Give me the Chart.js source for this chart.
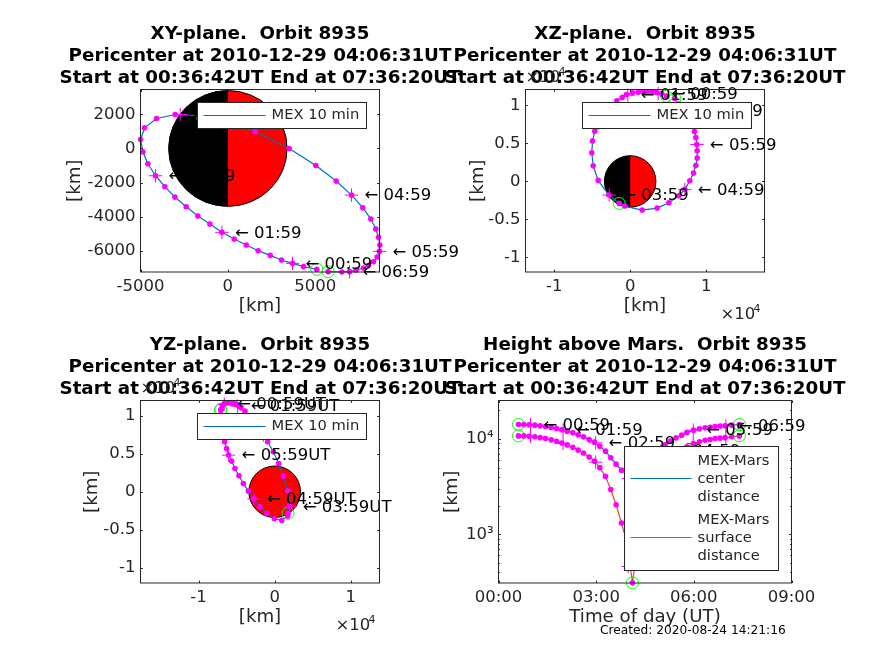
<!DOCTYPE html>
<html lang="en">
<head>
<meta charset="UTF-8">
<title>Orbit 8935</title>
<script src="https://cdn.jsdelivr.net/npm/chart.js"></script>
<style>
    body { margin: 0; background: #fff; width: 874px; height: 655px; overflow: hidden; }
    canvas { position: absolute; left: 0; top: 0; }
</style>
</head>
<body>
<canvas id="xyCanvas" width="874" height="655"></canvas>
<canvas id="xzCanvas" width="874" height="655"></canvas>
<canvas id="yzCanvas" width="874" height="655"></canvas>
<canvas id="heightCanvas" width="874" height="655"></canvas>

<script>
const marsRadius = 3390;
const hourLabels = ['00:59', '01:59', '02:59', '03:59', '04:59', '05:59', '06:59'];
const hourLabelsUT = ['00:59UT', '01:59UT', '02:59UT', '03:59UT', '04:59UT', '05:59UT', '06:59UT'];
const pericenterLine = 'Pericenter at 2010-12-29 04:06:31UT';
const startEndLine = 'Start at 00:36:42UT End at 07:36:20UT';

// XY plane, km
const xyOrbitX = [5092, 4329, 3700, 3070, 2422, 1735, 1049, 362, -343, -1030, -1716, -2384, -3032, -3604, -4138, -4577, -4863, -4996, -4768, -4081, -3013, -1392, 229, 1564, 3509, 5034, 6198, 7075, 7723, 8181, 8467, 8620, 8696, 8677, 8543, 8334, 8048, 7761, 7342, 6961, 6522, 5740];
const xyOrbitY = [-7075, -6919, -6724, -6529, -6256, -5983, -5652, -5301, -4911, -4424, -3956, -3411, -2846, -2241, -1598, -897, -195, 526, 1208, 1754, 1988, 1910, 1462, 975, 0, -994, -1910, -2729, -3469, -4132, -4717, -5204, -5652, -6022, -6354, -6627, -6841, -6997, -7114, -7211, -7231, -7211];
const xyHourX = [3700, -343, -4138, -2727, 7075, 8677, 6961];
const xyHourY = [-6724, -4911, -1598, 1988, -2729, -6022, -7211];
const xyRingX = [5092, 5740, -1449];
const xyRingY = [-7075, -7211, 1852];
const xyTicksX = [-5000, 0, 5000];
const xyTicksY = [-6000, -4000, -2000, 0, 2000];

// XZ plane, km
const xzOrbitX = [4781, 4123, 3465, 2895, 2281, 1667, 1053, 307, -482, -1053, -1754, -2456, -3114, -3728, -4211, -4649, -4956, -5044, -4868, -4211, -2807, -1447, -702, 1579, 3553, 5088, 6404, 7193, 7851, 8333, 8640, 8816, 8816, 8772, 8640, 8465, 8202, 7807, 7412, 6974, 6447, 5877];
const xzOrbitY = [11228, 11579, 11711, 11798, 11798, 11798, 11754, 11667, 11447, 11053, 10614, 9956, 9298, 8509, 7632, 6623, 5307, 3772, 2061, 132, -1798, -2895, -3246, -3772, -3509, -2807, -1886, -1053, 88, 1096, 2105, 3070, 4035, 4868, 5789, 6579, 7412, 8290, 8860, 9254, 10175, 10921];
const xzHourX = [3684, -307, -4211, -2763, 7193, 8772, 6974];
const xzHourY = [11579, 11360, 7632, -1798, -1053, 4868, 9254];
const xzRingX = [4781, 5877, -1447];
const xzRingY = [11228, 10921, -2895];
const xzTicksX = [-10000, 0, 10000];
const xzTicksY = [-10000, -5000, 0, 5000, 10000];

// YZ plane, km
const yzOrbitX = [-7061, -6886, -6623, -6228, -5877, -5526, -5219, -5000, -4737, -4430, -3904, -3333, -2807, -2149, -1491, -921, -175, 526, 1140, 1754, 1930, 1754, 1711, 921, -44, -1009, -1930, -2763, -3465, -4123, -4693, -5219, -5658, -6053, -6316, -6579, -6842, -7018, -7193, -7281, -7237, -7061];
const yzOrbitY = [10746, 11360, 11623, 11711, 11711, 11667, 11579, 11491, 11316, 11053, 10614, 9956, 9211, 8333, 7456, 6579, 5263, 3728, 2061, 88, -1886, -2851, -3202, -3772, -3553, -2851, -1974, -921, 88, 1096, 2105, 3070, 4035, 4825, 5702, 6579, 7456, 8114, 8772, 9430, 10088, 10833];
const yzHourX = [-6623, -4868, -1491, 1974, -2719, -6053, -7281];
const yzHourY = [11535, 11272, 7456, -1974, -965, 4825, 9430];
const yzRingX = [-7061, -7130, 1754];
const yzRingY = [10833, 10746, -2851];
const yzTicksX = [-10000, 0, 10000];
const yzTicksY = [-10000, -5000, 0, 5000, 10000];

// height above Mars, hours of day / km
const dotHours = [0.614, 0.778, 0.942, 1.116, 1.279, 1.443, 1.617, 1.781, 1.945, 2.108, 2.283, 2.446, 2.61, 2.784, 2.948, 3.112, 3.286, 3.449, 3.613, 3.777, 3.951, 4.115, 4.278, 4.452, 4.616, 4.78, 4.954, 5.118, 5.282, 5.455, 5.629, 5.783, 5.988, 6.172, 6.346, 6.5, 6.653, 6.807, 6.96, 7.165, 7.4];
const centerDistance = [14125, 14125, 14020, 13900, 13680, 13460, 13140, 12830, 12420, 12030, 11560, 11010, 10490, 9840, 9230, 8380, 7430, 6330, 5430, 4700, 4200, 3700, 4180, 4700, 5430, 6330, 7430, 8654, 9453, 10244, 10923, 11649, 12323, 12722, 13032, 13243, 13459, 13568, 13680, 13900, 14125];
const surfaceDistance = [10735, 10735, 10630, 10510, 10290, 10070, 9750, 9440, 9030, 8640, 8170, 7620, 7100, 6450, 5840, 4990, 4040, 2940, 2040, 1310, 810, 310, 790, 1310, 2040, 2940, 4040, 5264, 6063, 6854, 7533, 8259, 8933, 9332, 9642, 9853, 10069, 10178, 10290, 10510, 10735];
const hourMarks = [0.983, 1.983, 2.983, 3.983, 4.983, 5.983, 6.983];
const centerAtHour = [14020, 12323, 9080, 3850, 7430, 12323, 13680];
const surfaceAtHour = [10630, 8933, 5690, 460, 4040, 8933, 10290];
const ringHours = [0.614, 7.4, 4.115];
const ringCenter = [14125, 14125, 3700];
const ringSurface = [10735, 10735, 310];
const timeTicks = [0, 3, 6, 9];
const timeTickLabels = ['00:00', '03:00', '06:00', '09:00'];
const heightTicks = [1000, 10000];
const heightMinorTicks = [400, 500, 600, 700, 800, 900, 2000, 3000, 4000, 5000, 6000, 7000, 8000, 9000, 20000];

const textColor = '#262626';
const tickSize = 16.5;
const tickFont = tickSize + 'px "DejaVu Sans"';
const labelFont = '18.2px "DejaVu Sans"';
const titleFont = 'bold 18.3px "DejaVu Sans"';
const legendFont = '14.7px "DejaVu Sans"';

const pts = (xs, ys) => xs.map((x, i) => ({ x: x, y: ys[i] }));
const perTen = v => v === 0 ? '0' : String(v / 10000);

const orbitSets = (orbitX, orbitY, hourX, hourY, ringX, ringY, color) => [
    { data: pts(orbitX, orbitY), pointRadius: 2.8, backgroundColor: '#ff00ff', borderColor: '#ff00ff', borderWidth: 0, clip: false },
    { data: pts(hourX, hourY), pointStyle: 'cross', pointRadius: 6.7, borderColor: '#ff00ff', pointBorderWidth: 1, clip: false },
    { data: pts(ringX, ringY), pointRadius: 6, backgroundColor: 'transparent', borderColor: '#00ff00', pointBorderWidth: 1, clip: false },
    { data: pts(orbitX, orbitY), showLine: true, pointRadius: 0, borderColor: color, borderWidth: 1.2, clip: false }
];

const panelPlugin = {
    id: 'panel',
    beforeDatasetsDraw(chart, args, opts) {
        const ctx = chart.ctx;
        const sx = chart.scales.x, sy = chart.scales.y;
        if (!opts.mars) return;
        const cx = sx.getPixelForValue(0), cy = sy.getPixelForValue(0);
        const rx = sx.getPixelForValue(marsRadius) - cx, ry = cy - sy.getPixelForValue(marsRadius);
        ctx.save();
        ctx.fillStyle = '#ff0000';
        ctx.beginPath();
        ctx.ellipse(cx, cy, rx, ry, 0, 0, Math.PI * 2);
        ctx.fill();
        if (opts.mars === 'half') {
            ctx.fillStyle = '#000';
            ctx.beginPath();
            ctx.ellipse(cx, cy, rx, ry, 0, Math.PI / 2, Math.PI * 1.5);
            ctx.fill();
        }
        ctx.strokeStyle = '#000';
        ctx.lineWidth = 1;
        ctx.beginPath();
        ctx.ellipse(cx, cy, rx, ry, 0, 0, Math.PI * 2);
        ctx.stroke();
        ctx.restore();
    },
    afterDraw(chart, args, opts) {
        const ctx = chart.ctx;
        const sx = chart.scales.x, sy = chart.scales.y;
        const a = chart.chartArea;
        ctx.save();

        // hour labels
        ctx.fillStyle = '#000';
        ctx.font = tickFont;
        ctx.textAlign = 'left';
        ctx.textBaseline = 'middle';
        opts.hourText.forEach((s, i) => {
            ctx.fillText('\u2190 ' + s, sx.getPixelForValue(opts.hourAtX[i]) + 13, sy.getPixelForValue(opts.hourAtY[i]) + 1);
        });

        // box and inside ticks
        ctx.strokeStyle = textColor;
        ctx.lineWidth = 1;
        ctx.strokeRect(a.left, a.top, a.right - a.left, a.bottom - a.top);
        const tl = 2.4;
        ctx.beginPath();
        opts.ticksX.forEach(v => {
            const p = Math.round(sx.getPixelForValue(v)) + 0.5;
            ctx.moveTo(p, a.bottom); ctx.lineTo(p, a.bottom - tl);
            ctx.moveTo(p, a.top); ctx.lineTo(p, a.top + tl);
        });
        opts.ticksY.forEach(v => {
            const p = Math.round(sy.getPixelForValue(v)) + 0.5;
            ctx.moveTo(a.left, p); ctx.lineTo(a.left + tl, p);
            ctx.moveTo(a.right, p); ctx.lineTo(a.right - tl, p);
        });
        (opts.minorY || []).forEach(v => {
            const p = Math.round(sy.getPixelForValue(v)) + 0.5;
            ctx.moveTo(a.left, p); ctx.lineTo(a.left + tl * 0.6, p);
            ctx.moveTo(a.right, p); ctx.lineTo(a.right - tl * 0.6, p);
        });
        ctx.stroke();

        // titles
        ctx.fillStyle = '#000';
        ctx.font = titleFont;
        ctx.textAlign = 'center';
        ctx.textBaseline = 'alphabetic';
        const mid = (a.left + a.right) / 2;
        opts.title.forEach((s, i) => ctx.fillText(s, mid, a.top - 50.5 + i * 22));

        // axis labels
        ctx.fillStyle = textColor;
        ctx.font = labelFont;
        ctx.textBaseline = 'middle';
        ctx.fillText(opts.xLabel, mid, a.bottom + 34);
        ctx.save();
        ctx.translate(opts.yLabelX, (a.top + a.bottom) / 2);
        ctx.rotate(-Math.PI / 2);
        ctx.fillText('[km]', 0, 0);
        ctx.restore();

        // x10^4 factors
        if (opts.factor) {
            ctx.textAlign = 'left';
            ctx.textBaseline = 'alphabetic';
            [[a.right - 44, a.bottom + 47], [a.left, a.top - 8]].forEach(p => {
                ctx.font = tickFont;
                ctx.fillText('\u00d710', p[0], p[1]);
                ctx.font = '11px "DejaVu Sans"';
                ctx.fillText('4', p[0] + 33, p[1] - 7);
            });
        }

        // legend
        const lg = opts.legend;
        ctx.fillStyle = '#fff';
        ctx.fillRect(lg.x, lg.y, lg.w, lg.h);
        ctx.strokeStyle = textColor;
        ctx.strokeRect(lg.x, lg.y, lg.w, lg.h);
        ctx.font = legendFont;
        ctx.textAlign = 'left';
        ctx.textBaseline = 'middle';
        lg.rows.forEach(r => {
            ctx.strokeStyle = r.color;
            ctx.beginPath();
            ctx.moveTo(lg.x + 6, r.lineY);
            ctx.lineTo(lg.x + 6 + lg.sample, r.lineY);
            ctx.stroke();
            ctx.fillStyle = textColor;
            r.text.forEach((s, i) => ctx.fillText(s, lg.x + 6 + lg.sample + 6, r.textY + i * 18));
        });

        if (opts.created) {
            ctx.fillStyle = '#000';
            ctx.font = '12.2px "DejaVu Sans"';
            ctx.textAlign = 'left';
            ctx.textBaseline = 'middle';
            ctx.fillText(opts.created, 600, 631);
        }
        ctx.restore();
    }
};

// the scale boxes keep a fixed size so the plot area lands where it should
const scaleW = 60, scaleH = 30;

const makeChart = (id, box, sets, xAxis, yAxis, panel) => new Chart(document.getElementById(id), {
    type: 'scatter',
    data: { datasets: sets },
    plugins: [panelPlugin],
    options: {
        responsive: false,
        animation: false,
        events: [],
        layout: { padding: { left: box.left - scaleW, top: box.top, right: 874 - box.right, bottom: 655 - box.bottom - scaleH } },
        plugins: { legend: { display: false }, tooltip: { enabled: false }, panel: panel },
        scales: {
            x: {
                type: 'linear', min: xAxis.min, max: xAxis.max,
                grid: { display: false, drawTicks: false }, border: { display: false },
                afterFit: s => { s.height = scaleH; },
                afterBuildTicks: s => { s.ticks = xAxis.ticks.map(v => ({ value: v })); },
                ticks: { autoSkip: false, maxRotation: 0, padding: 5, color: textColor, font: { family: 'DejaVu Sans', size: tickSize }, callback: xAxis.text }
            },
            y: {
                type: yAxis.type || 'linear', min: yAxis.min, max: yAxis.max,
                grid: { display: false, drawTicks: false }, border: { display: false },
                afterFit: s => { s.width = scaleW; },
                afterBuildTicks: s => { s.ticks = yAxis.ticks.map(v => ({ value: v })); },
                ticks: { autoSkip: false, padding: 5, color: textColor, font: { family: 'DejaVu Sans', size: tickSize }, callback: yAxis.text }
            }
        }
    }
});

const blue = '#0072BD', orange = '#D95319';
const mexLegend = (x, y) => ({ x: x, y: y, w: 169, h: 26, sample: 62, rows: [{ color: blue, lineY: y + 13, textY: y + 13, text: ['MEX 10 min'] }] });

makeChart('xyCanvas', { left: 140.5, top: 89.5, right: 379.5, bottom: 272 },
    orbitSets(xyOrbitX, xyOrbitY, xyHourX, xyHourY, xyRingX, xyRingY, blue),
    { min: -5000, max: 8677, ticks: xyTicksX, text: v => String(v) },
    { min: -7231, max: 3450, ticks: xyTicksY, text: v => String(v) },
    { mars: 'half', hourText: hourLabels, hourAtX: xyHourX, hourAtY: xyHourY, ticksX: xyTicksX, ticksY: xyTicksY,
      title: ['XY-plane.  Orbit 8935', pericenterLine, startEndLine], xLabel: '[km]', yLabelX: 75, legend: mexLegend(197.5, 102.5) });

makeChart('xzCanvas', { left: 525.5, top: 89.5, right: 764.5, bottom: 272 },
    orbitSets(xzOrbitX, xzOrbitY, xzHourX, xzHourY, xzRingX, xzRingY, blue),
    { min: -13772, max: 17676, ticks: xzTicksX, text: perTen },
    { min: -11930, max: 12105, ticks: xzTicksY, text: perTen },
    { mars: 'half', hourText: hourLabels, hourAtX: xzHourX, hourAtY: xzHourY, ticksX: xzTicksX, ticksY: xzTicksY, factor: true,
      title: ['XZ-plane.  Orbit 8935', pericenterLine, startEndLine], xLabel: '[km]', yLabelX: 478, legend: mexLegend(582.5, 102.5) });

makeChart('yzCanvas', { left: 140.5, top: 400.5, right: 379.5, bottom: 583 },
    orbitSets(yzOrbitX, yzOrbitY, yzHourX, yzHourY, yzRingX, yzRingY, blue),
    { min: -17632, max: 13772, ticks: yzTicksX, text: perTen },
    { min: -12018, max: 12018, ticks: yzTicksY, text: perTen },
    { mars: 'full', hourText: hourLabelsUT, hourAtX: yzHourX, hourAtY: yzHourY, ticksX: yzTicksX, ticksY: yzTicksY, factor: true,
      title: ['YZ-plane.  Orbit 8935', pericenterLine, startEndLine], xLabel: '[km]', yLabelX: 92, legend: mexLegend(197.5, 413.5) });

makeChart('heightCanvas', { left: 498.5, top: 400.5, right: 791.5, bottom: 583 },
    [].concat(
        orbitSets(dotHours, centerDistance, hourMarks, centerAtHour, ringHours, ringCenter, blue),
        orbitSets(dotHours, surfaceDistance, hourMarks, surfaceAtHour, ringHours, ringSurface, orange)),
    { min: 0, max: 9, ticks: timeTicks, text: v => timeTickLabels[timeTicks.indexOf(v)] },
    { type: 'logarithmic', min: 309, max: 25200, ticks: heightTicks, text: v => v === 1000 ? '10\u00b3' : '10\u2074' },
    { hourText: hourLabels, hourAtX: hourMarks, hourAtY: centerAtHour, ticksX: timeTicks, ticksY: heightTicks, minorY: heightMinorTicks,
      title: ['Height above Mars.  Orbit 8935', pericenterLine, startEndLine], xLabel: 'Time of day (UT)', yLabelX: 452, created: 'Created: 2020-08-24 14:21:16',
      legend: { x: 624.5, y: 446.5, w: 154, h: 124, sample: 61, rows: [
          { color: blue, lineY: 478.5, textY: 461, text: ['MEX-Mars', 'center', 'distance'] },
          { color: orange, lineY: 537.5, textY: 520, text: ['MEX-Mars', 'surface', 'distance'] }
      ] } });
</script>
</body>
</html>
